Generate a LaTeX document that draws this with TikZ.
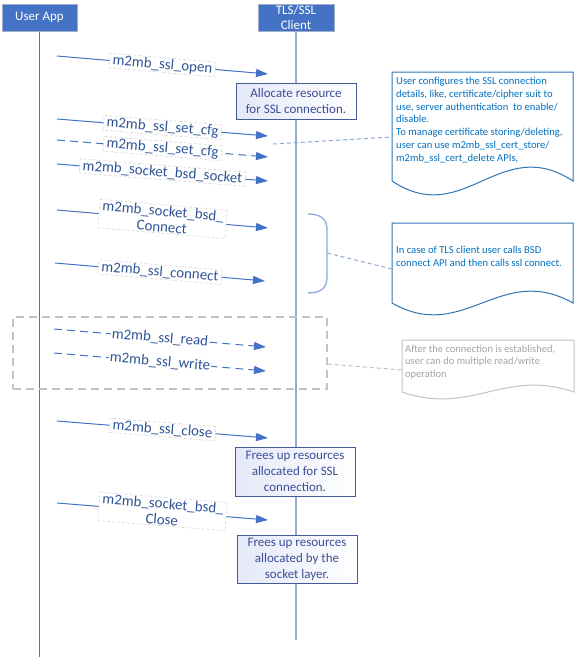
\documentclass[tikz,border=0pt]{standalone}
\usepackage{fontspec}
\setmainfont{Carlito}
\usepackage{tikz}
\usetikzlibrary{arrows.meta,positioning}
\usepackage{xcolor}
\definecolor{hdrblue}{RGB}{68,114,196}
\definecolor{hdredge}{RGB}{160,175,200}
\definecolor{lifeline}{RGB}{143,170,220}
\definecolor{lbltext}{RGB}{47,85,151}
\definecolor{lbledge}{RGB}{215,215,215}
\definecolor{noteedge}{RGB}{70,90,150}
\definecolor{notetext}{RGB}{62,78,150}
\definecolor{notefill}{RGB}{228,233,248}
\definecolor{calledge}{RGB}{46,117,182}
\definecolor{calltext}{RGB}{0,112,192}
\definecolor{linkblue}{RGB}{140,170,210}
\definecolor{grpgrey}{RGB}{195,195,195}
\definecolor{greytext}{RGB}{165,165,165}

\begin{document}
\begin{tikzpicture}[x=1pt, y=-1pt,
  hdr/.style={draw=hdredge, fill=hdrblue, text=white, line width=1pt,
    font=\fontsize{13}{15}\selectfont, align=center, inner sep=0pt},
  msg/.style={draw=hdrblue, line width=1pt, -{Triangle[length=12pt,width=8pt]}},
  msgdash/.style={msg, dash pattern=on 8pt off 5pt},
  lbl/.style={sloped, fill=white, draw=lbledge, dash pattern=on 3pt off 2pt,
    line width=0.6pt, text=lbltext, font=\fontsize{14.9}{16}\selectfont,
    inner xsep=3pt, inner ysep=1pt, align=center},
  lblplain/.style={lbl, draw=none, inner xsep=1pt},
  note/.style={draw=noteedge, line width=1pt, left color=notefill, right color=white,
    text=notetext, font=\fontsize{13}{16}\selectfont, align=center, inner sep=0pt},
  callout/.style={draw=calledge, line width=1pt, fill=white},
  calltxt/.style={text=calltext, font=\fontsize{10.6}{12.8}\selectfont, align=left,
    inner sep=0pt, anchor=north west},
  link/.style={draw=linkblue, line width=1pt, dash pattern=on 4pt off 3pt}]
\useasboundingbox (0,0) rectangle (576,662);
%% ---- lifelines ----
\node[hdr, minimum width=75, minimum height=27] (app) at (39.5,17.5) {User App};
\node[hdr, minimum width=76, minimum height=27] (tls) at (296,17.5) {TLS/SSL\\Client};
\coordinate (app-end) at (39.5,657);
\coordinate (tls-end) at (296,640);
\draw[draw=hdrblue, line width=1pt] (app) -- (app-end);
\draw[draw=lifeline, line width=2pt] (tls) -- (tls-end);
%% ---- notes on the client lifeline ----
\node[note, minimum width=120, minimum height=36] (alloc) at (296,101)
  {Allocate resource\\for SSL connection.};
\node[note, minimum width=120, minimum height=49] (freessl) at (295,471.5)
  {Frees up resources\\allocated for SSL\\connection.};
\node[note, minimum width=120, minimum height=48] (freesock) at (297,559)
  {Frees up resources\\allocated by the\\socket layer.};
%% ---- messages ----
\coordinate (open-s) at (57,56);   \coordinate (open-e) at (268,74);
\coordinate (cfg-s) at (57,119);   \coordinate (cfg-e) at (268,136);
\coordinate (cfgb-s) at (57,140);  \coordinate (cfgb-e) at (268,157);
\coordinate (sock-s) at (57,164);  \coordinate (sock-e) at (268,181);
\coordinate (bcon-s) at (57,210);  \coordinate (bcon-e) at (268,228);
\coordinate (scon-s) at (55,263);  \coordinate (scon-e) at (265,281);
\coordinate (read-s) at (54,329);  \coordinate (read-e) at (266,347);
\coordinate (write-s) at (54,353); \coordinate (write-e) at (266,371);
\coordinate (close-s) at (57,421); \coordinate (close-e) at (268,438);
\coordinate (bcls-s) at (57,503);  \coordinate (bcls-e) at (268,520);
\draw[msg] (open-s) -- node[lbl] (l-open) {m2mb\_ssl\_open} (open-e);
\draw[msg] (cfg-s) -- node[lbl] (l-cfg) {m2mb\_ssl\_set\_cfg} (cfg-e);
\draw[msgdash] (cfgb-s) -- node[lbl] (l-cfgb) {m2mb\_ssl\_set\_cfg} (cfgb-e);
\draw[msg] (sock-s) -- node[lbl] (l-sock) {m2mb\_socket\_bsd\_socket} (sock-e);
\draw[msg] (bcon-s) -- node[lbl] (l-bcon) {m2mb\_socket\_bsd\_\\Connect} (bcon-e);
\draw[msg] (scon-s) -- node[lbl] (l-scon) {m2mb\_ssl\_connect} (scon-e);
\draw[msgdash] (read-s) -- node[lblplain] (l-read) {m2mb\_ssl\_read} (read-e);
\draw[msgdash] (write-s) -- node[lblplain] (l-write) {m2mb\_ssl\_write} (write-e);
\draw[msg] (close-s) -- node[lbl] (l-close) {m2mb\_ssl\_close} (close-e);
\draw[msg] (bcls-s) -- node[lbl] (l-bcls) {m2mb\_socket\_bsd\_\\Close} (bcls-e);
%% ---- read/write group ----
\node[draw=grpgrey, line width=1.5pt, dash pattern=on 8pt off 5pt,
  minimum width=314, minimum height=72, inner sep=0pt] (rwgroup) at (170,353) {};
%% ---- brace over the connect calls ----
\coordinate (brace-mid) at (327,253);
\draw[draw=lifeline, line width=1.3pt] (308,214) .. controls (322,214) and (327,220) .. (327,230)
  -- (327,277) .. controls (327,287) and (322,293) .. (308,293);
%% ---- callouts ----
\draw[callout] (392,181) -- (392,72) -- (573,72) -- (573,181)
  .. controls (500,133) and (464,229) .. (392,181);
\node[calltxt] (note1) at (396,77)
  {User configures the SSL connection\\details, like, certificate/cipher suit to\\use, server authentication\ \ to enable/\\disable.\\To manage certificate storing/deleting,\\user can use m2mb\_ssl\_cert\_store/\\m2mb\_ssl\_cert\_delete APIs,};
\coordinate (note1-in) at (392,137);
\coordinate (cfg-tap) at (273,144);
\draw[link] (cfg-tap) -- (note1-in);

\draw[callout] (392,303) -- (392,223) -- (573,223) -- (573,303)
  .. controls (500,262) and (464,344) .. (392,303);
\node[calltxt] (note2) at (396,246)
  {In case of TLS client user calls BSD\\connect API and then calls ssl connect.};
\coordinate (note2-in) at (392,269);
\draw[link] (brace-mid) -- (note2-in);

\draw[callout, draw=grpgrey] (402,392) -- (402,340) -- (574,340) -- (574,392)
  .. controls (505,368) and (471,416) .. (402,392);
\node[calltxt, text=greytext, font=\fontsize{10.5}{12.5}\selectfont] (note3) at (405,345)
  {After the connection is established,\\user can do multiple read/write\\operation};
\coordinate (note3-in) at (402,370);
\draw[link, draw=grpgrey] (rwgroup.-4) -- (note3-in);
\end{tikzpicture}
\end{document}
